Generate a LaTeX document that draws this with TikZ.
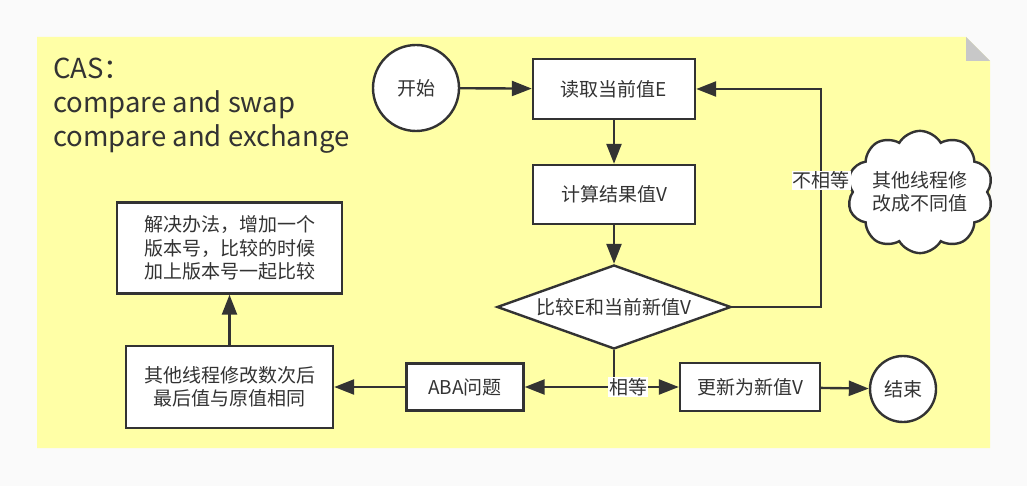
\documentclass[tikz,border=0pt]{standalone}
\usepackage{fontspec}
\setmainfont{Noto Sans CJK SC}
\usetikzlibrary{calc, positioning}
\usetikzlibrary{arrows.meta}
\usetikzlibrary{shapes.geometric, shapes.symbols}

\definecolor{notebg}{RGB}{255,255,166}
\definecolor{pagebg}{RGB}{250,250,250}
\definecolor{ink}{RGB}{51,51,51}
\definecolor{foldgray}{RGB}{200,200,200}

\tikzset{
  txt/.style={text=ink, font=\fontsize{19}{23.5}\selectfont},
  base/.style={draw=ink, line width=2.4pt, fill=white, inner sep=0pt, txt, align=center},
  box/.style={base, rectangle},
  term/.style={base, circle, minimum size=#1},
  arr/.style={draw=ink, line width=2.4pt, -{Triangle[length=20pt,width=15pt]}},
  lbl/.style={fill=white, txt, inner sep=1pt},
}

\begin{document}
\begin{tikzpicture}[x=1pt, y=-1pt]
  \useasboundingbox (0,0) rectangle (1027,486);
  \fill[pagebg] (0,0) rectangle (1027,486);

  % note with folded corner
  \fill[notebg] (37,37) -- (966,37) -- (990,61) -- (990,448) -- (37,448) -- cycle;
  \fill[foldgray] (966,37) -- (966,61) -- (990,61) -- cycle;

  \node[anchor=west, align=left, text=ink, inner sep=0pt,
    font=\fontsize{27.5}{34}\selectfont] (title) at (53,106)
    {CAS：\\compare and swap\\compare and exchange};

  \node[term=86pt] (start) at (416,88) {开始};
  \node[box, minimum width=162pt, minimum height=60pt] (read) at (614,89) {读取当前值E};
  \node[box, minimum width=162pt, minimum height=59pt] (calc) at (614,194.5) {计算结果值V};
  \node[base, diamond, minimum width=234pt, minimum height=84pt,
    label={[txt]center:比较E和当前新值V}] (cmp) at (614,307) {};
  \node[box, minimum width=117pt, minimum height=47pt] (aba) at (465,387) {ABA问题};
  \node[box, minimum width=140pt, minimum height=48pt] (upd) at (750,387) {更新为新值V};
  \node[term=66pt] (end) at (903,389) {结束};
  \node[box, minimum width=207pt, minimum height=82pt] (other) at (229.5,387)
    {其他线程修改数次后\\最后值与原值相同};
  \node[box, minimum width=225pt, minimum height=91pt] (fix) at (229.5,248)
    {解决办法，增加一个\\版本号，比较的时候\\加上版本号一起比较};
  \node[base, cloud, cloud puffs=10, cloud puff arc=120, aspect=1.3,
    minimum width=124pt, minimum height=98pt] (cloud) at (920,192)
    {其他线程修\\改成不同值};

  \coordinate (split) at (cmp.south |- aba);

  \draw[arr] (start) -- (read);
  \draw[arr] (read) -- (calc);
  \draw[arr] (calc) -- (cmp);
  \draw[arr] (cmp.east) -- ++(89,0) |- (read.east)
    node[lbl, pos=0.29] {不相等};
  \draw[draw=ink, line width=2.4pt] (cmp.south) -- (split);
  \draw[arr] (split) -- (aba);
  \draw[arr] (split) -- (upd) node[lbl, pos=0.22] {相等};
  \draw[arr] (aba) -- (other);
  \draw[arr] (other) -- (fix);
  \draw[arr] (upd) -- (end);
\end{tikzpicture}
\end{document}
